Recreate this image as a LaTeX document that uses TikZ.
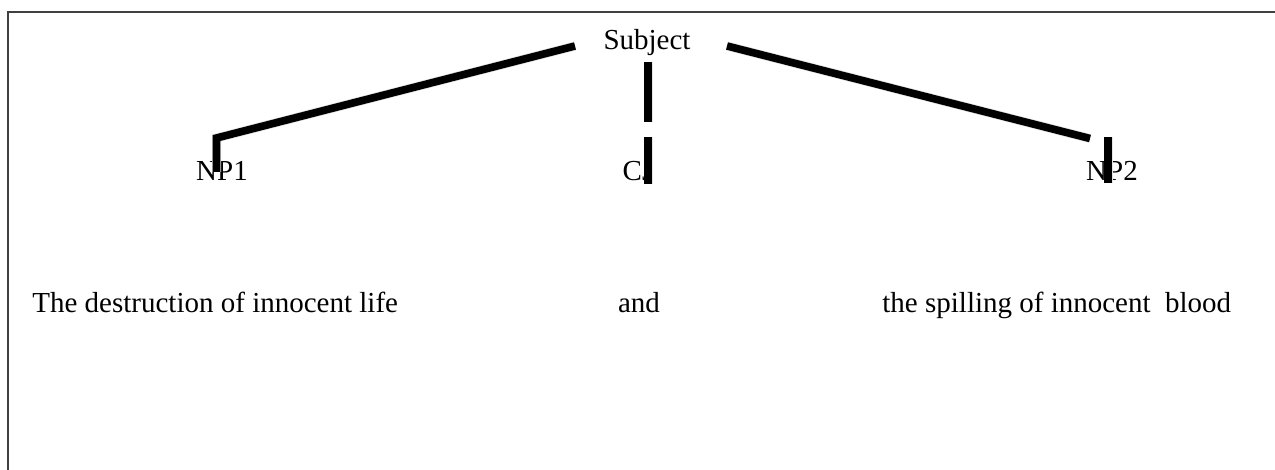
\documentclass[tikz,border=0pt]{standalone}
\usepackage{fontspec}
\setmainfont{Liberation Serif}
\begin{document}
\begin{tikzpicture}[x=0.5pt,y=-0.5pt,
  lbl/.style={inner sep=0pt,anchor=base,font=\fontsize{14.5pt}{17pt}\selectfont},
  branch/.style={line width=3.8pt,black,line join=miter,line cap=butt},
  shade/.style={line width=4.5pt,black!10,line cap=butt,line join=miter},
  frame/.style={line width=0.9pt,black!75}]
\useasboundingbox (0,0) rectangle (1275,470);
% frame (top and left edges only)
\coordinate (fbl) at (8,471);
\coordinate (ftl) at (8,12);
\coordinate (ftr) at (1276,12);
\draw[frame] (fbl) -- (ftl) -- (ftr);
% labels
\node[lbl] (subj) at (647,50) {Subject};
\node[lbl] (np1) at (222,181) {NP1};
\node[lbl] (cj) at (638,181) {CJ};
\node[lbl] (np2) at (1112,181) {NP2};
\node[lbl,anchor=base west] (w1) at (32,313) {The destruction of innocent life};
\node[lbl] (w2) at (639,313) {and};
\node[lbl,anchor=base west] (w3) at (882,313) {the spilling of innocent\ \ blood};
% endpoints of branches
\coordinate (la) at (575,46);
\coordinate (lb) at (216.5,138);
\coordinate (lc) at (216.5,172);
\coordinate (ca) at (648,62);
\coordinate (cb) at (648,122);
\coordinate (cc) at (648,137);
\coordinate (cd) at (648,184);
\coordinate (ra) at (727,46);
\coordinate (rb) at (1090,138.5);
\coordinate (rc) at (1108,137);
\coordinate (rd) at (1108,183);
% soft shadows
\begin{scope}[shift={(2,4)}]
\draw[shade] (la) -- (lb) -- (lc);
\draw[shade] (ca) -- (cb);
\draw[shade] (cc) -- (cd);
\draw[shade] (ra) -- (rb);
\draw[shade] (rc) -- (rd);
\end{scope}
% branches
\draw[branch] (la) -- (lb) -- (lc);
\draw[branch] (ca) -- (cb);
\draw[branch] (cc) -- (cd);
\draw[branch] (ra) -- (rb);
\draw[branch] (rc) -- (rd);
\end{tikzpicture}
\end{document}
